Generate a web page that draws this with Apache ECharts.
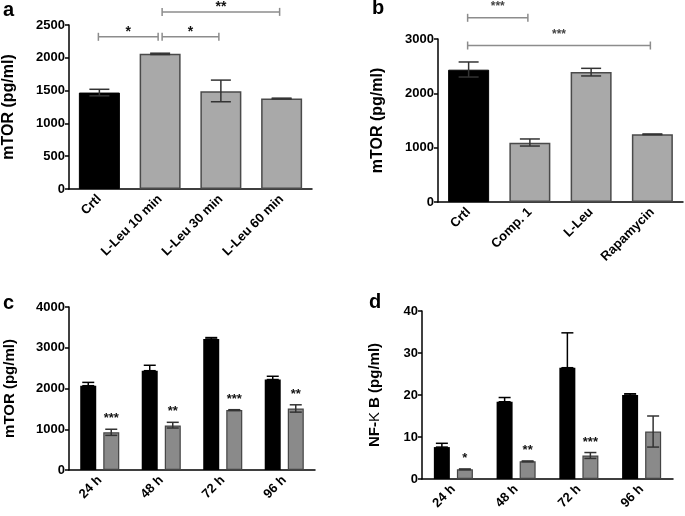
<!DOCTYPE html>
<html><head><meta charset="utf-8">
<script src="https://cdn.jsdelivr.net/npm/echarts@6/dist/echarts.min.js"></script>
<style>html,body{margin:0;padding:0;background:#fff}#c{width:685px;height:516px}</style>
</head><body><div id="c"></div>
<script>
// ---------- DATA ----------
const catsA = ['Crtl', 'L-Leu 10 min', 'L-Leu 30 min', 'L-Leu 60 min'];
const valsA = [1470, 2060, 1490, 1380];
const errLowA = [1420, 2050, 1330, 1372];
const errHighA = [1520, 2070, 1660, 1385];
const bracketsA = [[0, 1, 2320, '*'], [1, 2, 2320, '*'], [1, 3, 2700, '**']];

const catsB = ['Crtl', 'Comp. 1', 'L-Leu', 'Rapamycin'];
const valsB = [2435, 1092, 2393, 1246];
const errLowB = [2300, 1030, 2320, 1240];
const errHighB = [2577, 1160, 2460, 1252];
const bracketsB = [[0, 1, 3390, '***'], [0, 3, 2880, '***']];

const catsC = ['24 h', '48 h', '72 h', '96 h'];
const ctrlC = [2069, 2437, 3215, 2220];
const ctrlErrC = [2150, 2570, 3250, 2300];
const treatC = [925, 1093, 1471, 1510];
const treatErrLowC = [850, 1030, 1460, 1420];
const treatErrHighC = [1000, 1170, 1480, 1600];
const starsC = ['***', '**', '***', '**'];

const catsD = ['24 h', '48 h', '72 h', '96 h'];
const ctrlD = [7.6, 18.4, 26.5, 20.0];
const ctrlErrD = [8.5, 19.4, 34.8, 20.3];
const treatD = [2.3, 4.2, 5.6, 11.3];
const treatErrLowD = [2.2, 4.1, 4.9, 7.6];
const treatErrHighD = [2.4, 4.3, 6.3, 15.0];
const starsD = ['*', '**', '***', ''];

// ---------- STYLE ----------
const FONT = '"Liberation Sans", Arial, sans-serif';
const GREY_AB = '#a9a9a9';
const GREY_CD = '#8a8a8a';

function xAxisCfg(grid, cats) {
  return {
    type: 'category', gridIndex: grid, data: cats, boundaryGap: true,
    axisLine: { lineStyle: { color: '#000', width: 1.5 } },
    axisTick: { alignWithLabel: true, length: 4, lineStyle: { color: '#000', width: 1.5 } },
    axisLabel: { rotate: 45, interval: 0, margin: 8, color: '#000', fontWeight: 'bold', fontSize: 13, fontFamily: FONT }
  };
}
function yAxisCfg(grid, max, interval, name, gap, nameSize, rich) {
  const c = {
    type: 'value', gridIndex: grid, min: 0, max: max, interval: interval,
    splitLine: { show: false },
    axisLine: { show: true, lineStyle: { color: '#000', width: 1.5 } },
    axisTick: { show: true, length: 4, lineStyle: { color: '#000', width: 1.5 } },
    axisLabel: { margin: 4, color: '#000', fontWeight: 'bold', fontSize: 13, fontFamily: FONT, formatter: v => String(v) },
    name: name, nameLocation: 'middle', nameGap: gap, nameRotate: 90,
    nameTextStyle: { color: '#000', fontWeight: 'bold', fontSize: nameSize, fontFamily: FONT }
  };
  if (rich) c.nameTextStyle.rich = rich;
  return c;
}

function errSeries(grid, data, offset, capHalf, color) {
  return {
    type: 'custom', xAxisIndex: grid, yAxisIndex: grid, z: 5, silent: true,
    encode: { x: 0, y: [1, 2] },
    data: data,
    renderItem: function (params, api) {
      const x = api.value(0);
      const lo = api.coord([x, api.value(1)]);
      const hi = api.coord([x, api.value(2)]);
      const cx = lo[0] + offset;
      const st = { stroke: color, lineWidth: 1.5 };
      return { type: 'group', children: [
        { type: 'line', shape: { x1: cx, y1: lo[1], x2: cx, y2: hi[1] }, style: st },
        { type: 'line', shape: { x1: cx - capHalf, y1: hi[1], x2: cx + capHalf, y2: hi[1] }, style: st },
        { type: 'line', shape: { x1: cx - capHalf, y1: lo[1], x2: cx + capHalf, y2: lo[1] }, style: st }
      ] };
    }
  };
}

function bracketSeries(grid, data, starLift, starSize, starColor) {
  return {
    type: 'custom', xAxisIndex: grid, yAxisIndex: grid, z: 6, silent: true, clip: false,
    encode: { x: 0, y: 2 },
    data: data,
    renderItem: function (params, api) {
      const p1 = api.coord([api.value(0), api.value(2)]);
      const p2 = api.coord([api.value(1), api.value(2)]);
      const x1 = p1[0] + (api.value(0) > 0 ? 2 : -1);
      const x2 = p2[0] - 2;
      const y = p1[1];
      const st = { stroke: '#8c8c8c', lineWidth: 1.5 };
      return { type: 'group', children: [
        { type: 'line', shape: { x1: x1, y1: y, x2: x2, y2: y }, style: st },
        { type: 'line', shape: { x1: x1, y1: y - 4, x2: x1, y2: y + 4 }, style: st },
        { type: 'line', shape: { x1: x2, y1: y - 4, x2: x2, y2: y + 4 }, style: st },
        { type: 'text', style: { x: (x1 + x2) / 2, y: y - starLift, text: api.value(3), fill: starColor,
          font: 'bold ' + starSize + 'px ' + FONT, textAlign: 'center', textVerticalAlign: 'top' } }
      ] };
    }
  };
}

function starSeries(grid, data, offset) {
  return {
    type: 'custom', xAxisIndex: grid, yAxisIndex: grid, z: 6, silent: true, clip: false,
    encode: { x: 0, y: 1 },
    data: data,
    renderItem: function (params, api) {
      const p = api.coord([api.value(0), api.value(1)]);
      return { type: 'text', style: { x: p[0] + offset, y: p[1] - 17, text: api.value(2), fill: '#111',
        font: 'bold 13px ' + FONT, textAlign: 'center', textVerticalAlign: 'top' } };
    }
  };
}

const idx = [0, 1, 2, 3];
function colorBars(vals, grey, border) {
  return vals.map((v, i) => ({ value: v, itemStyle: i === 0 ? { color: '#000', borderColor: '#000', borderWidth: 1 } : { color: grey, borderColor: border, borderWidth: 1.5 } }));
}

const option = {
  animation: false,
  backgroundColor: '#fff',
  grid: [
    { left: 68, top: 25, width: 244, height: 164 },
    { left: 438, top: 39, width: 245, height: 163 },
    { left: 69, top: 307, width: 246, height: 163 },
    { left: 422, top: 311, width: 251, height: 168 }
  ],
  xAxis: [xAxisCfg(0, catsA), xAxisCfg(1, catsB), xAxisCfg(2, catsC), xAxisCfg(3, catsD)],
  yAxis: [
    yAxisCfg(0, 2500, 500, 'mTOR (pg/ml)', 52, 16),
    yAxisCfg(1, 3000, 1000, 'mTOR (pg/ml)', 52, 16),
    yAxisCfg(2, 4000, 1000, 'mTOR (pg/ml)', 52, 15),
    yAxisCfg(3, 40, 10, '{b|NF-}{k|\u039A}{b| B (pg/ml)}', 40, 15, {
      b: { fontWeight: 'bold', fontSize: 15, fontFamily: FONT, color: '#000' },
      k: { fontWeight: 'normal', fontSize: 15, fontFamily: FONT, color: '#000' }
    })
  ],
  graphic: [
    { type: 'text', left: 3, top: 0, style: { text: 'a', font: 'bold 20px ' + FONT, fill: '#000' } },
    { type: 'text', left: 372, top: -2, style: { text: 'b', font: 'bold 20px ' + FONT, fill: '#000' } },
    { type: 'text', left: 3, top: 293, style: { text: 'c', font: 'bold 20px ' + FONT, fill: '#000' } },
    { type: 'text', left: 369, top: 292, style: { text: 'd', font: 'bold 20px ' + FONT, fill: '#000' } }
  ],
  series: [
    // panel a
    { type: 'bar', xAxisIndex: 0, yAxisIndex: 0, barWidth: 41, data: colorBars(valsA, GREY_AB, '#4a4a4a') },
    errSeries(0, idx.map(i => [i, errLowA[i], errHighA[i]]), 0, 10, '#333'),
    bracketSeries(0, bracketsA, 12, 14, '#111'),
    // panel b
    { type: 'bar', xAxisIndex: 1, yAxisIndex: 1, barWidth: 41, data: colorBars(valsB, GREY_AB, '#4a4a4a') },
    errSeries(1, idx.map(i => [i, errLowB[i], errHighB[i]]), 0, 10, '#333'),
    bracketSeries(1, bracketsB, 17, 12, '#444'),
    // panel c
    { type: 'bar', xAxisIndex: 2, yAxisIndex: 2, barWidth: 16, barGap: '44%', itemStyle: { color: '#000' }, data: ctrlC },
    { type: 'bar', xAxisIndex: 2, yAxisIndex: 2, barWidth: 16, barGap: '44%', itemStyle: { color: GREY_CD, borderColor: '#444', borderWidth: 1.2 }, data: treatC },
    errSeries(2, idx.map(i => [i, ctrlC[i], ctrlErrC[i]]), -11.5, 6, '#000'),
    errSeries(2, idx.map(i => [i, treatErrLowC[i], treatErrHighC[i]]), 11.5, 6, '#333'),
    starSeries(2, idx.map(i => [i, treatErrHighC[i], starsC[i]]), 11.5),
    // panel d
    { type: 'bar', xAxisIndex: 3, yAxisIndex: 3, barWidth: 16, barGap: '44%', itemStyle: { color: '#000' }, data: ctrlD },
    { type: 'bar', xAxisIndex: 3, yAxisIndex: 3, barWidth: 16, barGap: '44%', itemStyle: { color: GREY_CD, borderColor: '#444', borderWidth: 1.2 }, data: treatD },
    errSeries(3, idx.map(i => [i, ctrlD[i], ctrlErrD[i]]), -11.5, 6, '#000'),
    errSeries(3, idx.map(i => [i, treatErrLowD[i], treatErrHighD[i]]), 11.5, 6, '#333'),
    starSeries(3, idx.map(i => [i, treatErrHighD[i], starsD[i]]), 11.5)
  ]
};
echarts.init(document.getElementById('c'), null, { renderer: 'canvas' }).setOption(option);
</script></body></html>
